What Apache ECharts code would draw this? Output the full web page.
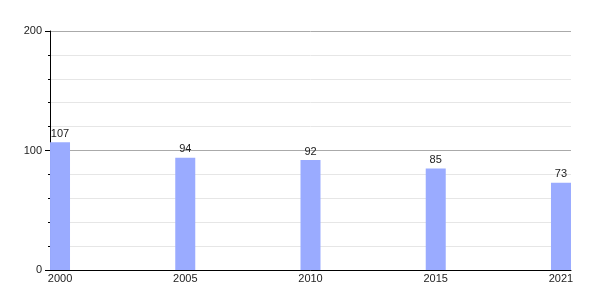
<!DOCTYPE html>
<html>
<head>
<meta charset="utf-8">
<script src="https://cdn.jsdelivr.net/npm/echarts@6/dist/echarts.min.js"></script>
<style>html,body{margin:0;padding:0;background:#fff;}#c{width:600px;height:300px;}</style>
</head>
<body>
<div id="c"></div>
<script>
var years = ['2000', '2005', '2010', '2015', '2021'];
var values = [107, 94, 92, 85, 73];
var yTicks = [0, 100, 200];

var FONT = '"Liberation Sans", Arial, sans-serif';
var chart = echarts.init(document.getElementById('c'), null, {renderer: 'canvas'});
chart.setOption({
  animation: false,
  backgroundColor: '#fff',
  grid: {left: 50, right: 29, top: 31, bottom: 30, containLabel: false},
  xAxis: {
    type: 'value',
    min: -0.08,
    max: years.length - 1 + 0.08,
    axisLine: {show: true, onZero: false, lineStyle: {color: '#000', width: 1}},
    axisTick: {show: false},
    splitLine: {show: false},
    axisLabel: {
      customValues: years.map(function (y, i) { return i; }),
      formatter: function (v) { return years[Math.round(v)]; },
      color: '#222', fontSize: 11, fontFamily: FONT, margin: 3
    }
  },
  yAxis: {
    type: 'value',
    min: yTicks[0],
    max: yTicks[yTicks.length - 1],
    interval: 100,
    axisLine: {show: true, onZero: false, lineStyle: {color: '#000', width: 1}},
    axisTick: {show: true, length: 5, lineStyle: {color: '#000'}},
    minorTick: {show: true, splitNumber: 5, length: 2, lineStyle: {color: '#000'}},
    splitLine: {show: true, lineStyle: {color: '#aaaaaa', width: 1}},
    minorSplitLine: {show: true, lineStyle: {color: '#e6e6e6', width: 1}},
    axisLabel: {color: '#222', fontSize: 11, fontFamily: FONT, margin: 8}
  },
  series: [{
    type: 'bar',
    data: values.map(function (v, i) { return [i, v]; }),
    barWidth: 20,
    itemStyle: {color: '#9aabff'},
    label: {
      show: true, position: 'top', distance: 3,
      color: '#222', fontSize: 11, fontFamily: FONT
    }
  }]
});
</script>
</body>
</html>
